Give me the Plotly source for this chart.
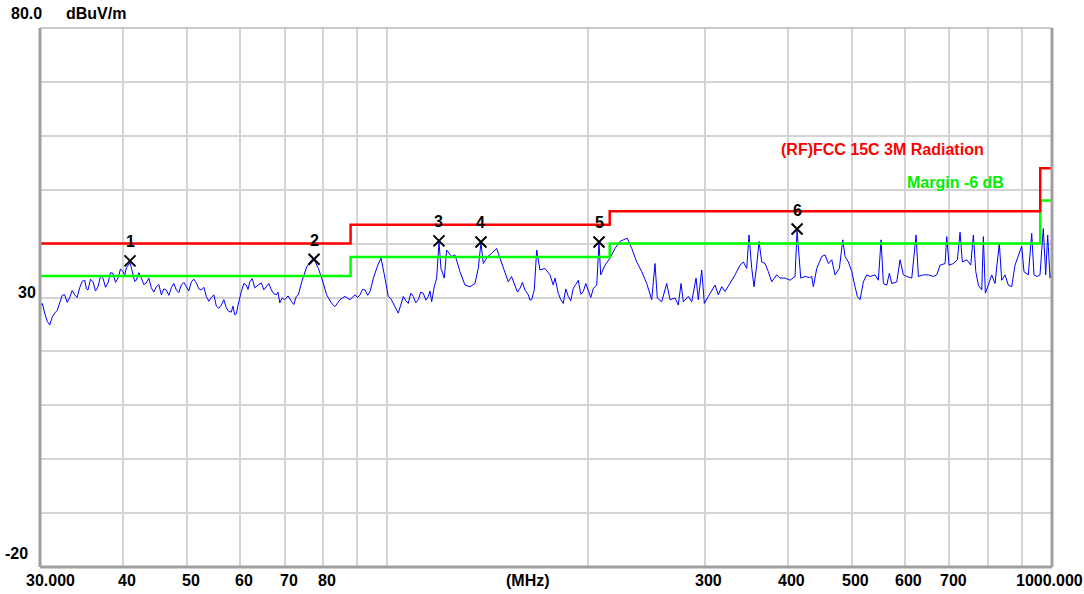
import numpy as np
import plotly.graph_objects as go

# ---------------- data ----------------
freq_mhz = [
    30.00, 30.49, 31.03, 31.57, 32.12, 32.68, 33.25, 33.83, 34.42, 35.03, 35.43, 36.05, 36.68, 37.32,
    37.97, 38.63, 39.31, 40.00, 40.46, 40.98, 41.41, 41.89, 42.62, 43.36, 44.12, 44.89, 45.68, 46.47,
    47.29, 48.11, 48.95, 49.81, 50.68, 51.57, 52.47, 53.38, 54.32, 55.27, 56.23, 57.21, 58.21, 58.90,
    59.58, 60.27, 61.32, 62.05, 63.14, 64.60, 65.72, 66.87, 68.04, 68.85, 70.05, 71.67, 72.92, 73.43,
    74.30, 75.60, 76.92, 77.53, 78.70, 79.63, 81.00, 82.42, 83.37, 84.82, 86.31, 87.82, 89.35, 90.94,
    92.53, 94.15, 95.23, 96.69, 97.80, 98.93, 100.28, 102.03, 103.81, 105.63, 107.47, 109.35, 111.26,
    113.21, 115.19, 116.55, 117.61, 118.59, 119.54, 120.37, 121.75, 122.77, 124.91, 126.35, 128.56,
    130.81, 133.09, 135.42, 136.98, 138.26, 139.37, 141.51, 143.49, 145.99, 147.67, 149.37, 151.98,
    155.55, 158.27, 161.03, 162.89, 164.82, 166.31, 167.70, 169.62, 172.59, 175.61, 177.63, 180.73,
    183.89, 187.10, 190.37, 193.70, 197.09, 200.55, 204.06, 206.48, 208.13, 209.36, 212.50, 216.22,
    220.00, 223.84, 226.42, 229.57, 233.10, 237.18, 241.32, 245.54, 249.83, 252.70, 254.72, 258.63,
    263.16, 266.18, 270.84, 273.95, 276.53, 278.74, 283.61, 286.97, 291.28, 293.61, 297.09, 299.80,
    303.98, 307.58, 311.12, 314.69, 318.42, 322.08, 327.71, 333.44, 339.27, 343.17, 347.24, 350.01,
    353.31, 356.14, 359.48, 362.36, 365.77, 369.97, 374.23, 378.66, 385.28, 389.71, 396.52, 403.48,
    410.53, 413.39, 418.72, 425.01, 431.39, 434.99, 437.41, 442.59, 450.32, 455.50, 460.74, 466.20,
    471.56, 478.64, 484.32, 488.19, 493.80, 499.70, 505.40, 509.45, 514.24, 520.15, 526.31, 532.37,
    541.67, 547.90, 553.05, 557.47, 564.08, 569.18, 573.94, 583.97, 590.68, 597.51, 604.59, 615.16,
    624.39, 629.39, 640.39, 651.58, 662.96, 670.82, 678.54, 690.39, 694.47, 700.00, 710.51, 720.43,
    727.20, 733.01, 744.28, 754.66, 761.50, 767.86, 774.80, 783.99, 788.34, 793.82, 801.94, 811.45,
    820.78, 833.10, 840.06, 849.72, 859.49, 869.68, 879.67, 889.79, 900.34, 907.5, 921.2, 932.1,
    939.5, 950.3, 959.3, 970.3, 978.4, 985.2, 993.1, 1000.0,
]
level_dbuv = [
    28.4, 27.1, 24.9, 27.1, 29.0, 30.5, 30.0, 30.5, 31.8, 33.2, 31.4, 32.9, 32.0, 33.6,
    32.7, 34.5, 33.6, 34.8, 35.5, 36.5, 34.2, 33.2, 33.6, 32.7, 31.8, 32.0, 30.5, 31.4,
    31.8, 31.4, 32.3, 32.0, 32.9, 32.7, 31.4, 30.2, 30.0, 28.4, 28.6, 28.1, 27.3, 26.8,
    28.6, 31.1, 32.3, 32.9, 31.8, 32.7, 32.0, 31.4, 30.5, 29.0, 29.6, 29.3, 30.2, 30.5,
    32.9, 35.7, 37.0, 37.1, 35.4, 33.6, 30.5, 28.9, 28.3, 29.6, 30.2, 29.6, 30.5, 30.5,
    31.4, 31.1, 33.6, 36.0, 37.3, 34.2, 30.2, 28.9, 27.1, 30.2, 28.9, 30.2, 29.6,
    30.8, 30.2, 29.2, 32.0, 33.6, 40.4, 35.4, 33.6, 38.8, 37.6, 37.9, 34.8,
    32.3, 32.0, 32.6, 35.4, 40.2, 36.3, 37.6, 38.2, 39.1, 37.3, 35.4, 32.9,
    32.3, 31.7, 31.4, 30.5, 29.6, 31.4, 38.8, 35.1, 35.4, 34.2, 32.3, 30.8,
    28.9, 30.2, 31.7, 33.2, 31.1, 31.4, 31.7, 32.3, 40.2, 34.2, 36.0, 37.3,
    39.1, 40.4, 40.7, 41.0, 39.1, 36.6, 34.8, 32.6, 29.6, 36.3, 29.9, 29.2,
    32.6, 29.6, 29.9, 28.6, 32.6, 29.2, 30.2, 29.2, 33.6, 29.6, 35.1, 28.9,
    30.2, 31.4, 32.3, 30.5, 32.0, 31.1, 32.6, 34.2, 36.0, 36.6, 35.4, 41.6,
    35.4, 32.0, 36.0, 40.4, 36.6, 36.3, 34.8, 32.9, 34.2, 33.6, 33.6, 33.2,
    33.9, 42.4, 33.6, 33.9, 33.7, 33.9, 32.0, 35.4, 37.6, 37.9, 36.3, 37.0,
    34.2, 35.4, 40.7, 37.6, 36.6, 34.8, 32.0, 30.2, 29.6, 32.9, 34.2, 33.9,
    34.2, 33.2, 40.7, 32.6, 32.3, 34.5, 32.6, 32.9, 37.0, 34.2, 33.9, 33.6,
    41.6, 33.9, 34.2, 34.2, 33.9, 34.2, 36.0, 36.3, 41.3, 36.0, 36.3, 37.0,
    42.1, 36.6, 37.0, 36.0, 41.6, 34.8, 32.3, 31.4, 41.3, 30.8, 32.3, 34.2,
    32.6, 40.1, 33.2, 34.2, 32.3, 32.0, 36.0, 37.9, 39.5, 34.8, 34.2, 41.9,
    34.2, 33.9, 34.2, 42.8, 34.2, 41.6, 33.6, 35.4,
]

# extra sweep points read from the fuzzy (noisy) stretches of the trace
noise_freq_mhz = [
    30.24, 30.76, 31.30, 31.84, 32.40, 32.96, 33.54, 34.12, 34.72, 35.23, 35.74, 36.36, 37.00, 37.64,
    38.30, 38.97, 39.65, 40.23, 40.72, 41.19, 41.65, 42.25, 42.99, 43.74, 44.50, 45.28, 46.07, 46.88,
    47.70, 48.53, 49.38, 50.24, 51.12, 52.02, 52.92, 53.85, 54.79, 55.75, 56.72, 57.71, 58.55, 59.24,
    59.92, 60.79, 61.68, 62.59, 63.87, 65.16, 66.29, 67.45, 68.44, 69.45, 70.86, 72.29,
    90.14, 91.73, 93.34, 94.69, 101.15, 102.92, 104.72, 106.55, 108.41, 110.30, 112.23, 114.20, 115.87,
    153.70, 156.90, 159.60, 163.90, 178.70, 182.30, 185.50, 188.70, 192.00, 195.40, 198.80, 202.30,
]
noise_level_dbuv = [
    28.9, 25.6, 26.4, 27.6, 30.4, 29.1, 31.3, 30.0, 33.0, 31.6, 33.4, 31.2, 34.0, 31.9,
    34.6, 32.8, 35.3, 34.1, 36.0, 35.4, 33.0, 34.6, 32.4, 33.6, 31.0, 32.4, 31.6, 30.4,
    32.6, 30.9, 32.8, 31.2, 33.4, 31.6, 31.9, 29.3, 30.5, 28.0, 29.6, 27.4, 28.4, 27.0,
    30.0, 32.6, 31.5, 33.5, 32.3, 31.4, 32.6, 30.7, 31.0, 29.9, 30.3, 28.7,
    30.0, 31.5, 30.4, 32.6, 29.8, 28.2, 28.6, 29.4, 30.8, 29.0, 31.0, 29.5, 31.2,
    33.9, 31.0, 32.8, 29.5, 33.6, 29.6, 31.6, 29.4, 32.4, 30.6, 32.6, 30.0,
]

# FCC Part 15C 3 m limit (step edges) and the -6 dB margin line
limit_freq = [30, 88, 216, 960, 1000]
limit_level = [40.0, 43.5, 46.0, 54.0, 54.0]
margin_db = 6.0

# peak markers
mk_freq = [40.98, 77.53, 119.54, 138.26, 208.13, 413.39]
mk_level = [36.8, 37.1, 40.5, 40.3, 40.3, 42.7]
mk_label = ["1", "2", "3", "4", "5", "6"]

# axis ticks
x_grid = [40, 50, 60, 70, 80, 90, 100, 200, 300, 400, 500, 600, 700, 800, 900]
x_tick_vals = [30, 40, 50, 60, 70, 80, 300, 400, 500, 600, 700, 1000]
x_tick_text = ["30.000", "40", "50", "60", "70", "80", "300", "400", "500", "600", "700", "1000.000"]
y_grid = [-10, 0, 10, 20, 30, 40, 50, 60, 70]
y_tick_vals = [80, 30, -20]
y_tick_text = ["80.0", "30", "-20"]

# merge the sweep points in frequency order
pairs = sorted(zip(freq_mhz + noise_freq_mhz, level_dbuv + noise_level_dbuv))
trace_f = [p[0] for p in pairs]
trace_v = [p[1] for p in pairs]

# ---------------- figure ----------------
FONT = "Liberation Sans"
fig = go.Figure()

fig.add_trace(go.Scatter(x=trace_f, y=trace_v, mode="lines",
                         line=dict(color="#0000ff", width=1), hoverinfo="skip"))
fig.add_trace(go.Scatter(x=limit_freq, y=[v - margin_db for v in limit_level], mode="lines",
                         line=dict(color="#00ff00", width=2.5, shape="hv"), hoverinfo="skip"))
fig.add_trace(go.Scatter(x=limit_freq, y=limit_level, mode="lines",
                         line=dict(color="#ff0000", width=2.5, shape="hv"), hoverinfo="skip"))
fig.add_trace(go.Scatter(x=mk_freq, y=mk_level, mode="markers",
                         marker=dict(symbol="x-thin", size=11, color="black",
                                     line=dict(color="black", width=2)),
                         hoverinfo="skip"))


def tfont(color="black"):
    return dict(family=FONT, size=16, color=color, weight="bold")


annotations = []
for f, v, t in zip(mk_freq, mk_level, mk_label):
    annotations.append(dict(x=np.log10(f), y=v, xref="x", yref="y", text=t, showarrow=False,
                            yshift=19, font=tfont()))

for i, (f, t) in enumerate(zip(x_tick_vals, x_tick_text)):
    shift = 4
    if i == 0:
        shift = 10
    elif i == len(x_tick_vals) - 1:
        shift = -3
    annotations.append(dict(x=np.log10(f), y=0, xref="x", yref="paper", text=t, showarrow=False,
                            xshift=shift, yshift=-13, yanchor="middle", font=tfont()))
annotations.append(dict(x=(528 - 40) / 1012, y=0, xref="paper", yref="paper", text="(MHz)",
                        showarrow=False, yshift=-13, yanchor="middle", font=tfont()))

y_label_pos = {"80.0": (9, 15), "30": (16, 5), "-20": (3, 14)}
for v, t in zip(y_tick_vals, y_tick_text):
    lx, ys = y_label_pos[t]
    annotations.append(dict(x=0, y=v, xref="paper", yref="y", text=t, showarrow=False,
                            xanchor="left", xshift=lx - 40, yshift=ys, yanchor="middle",
                            font=tfont()))
annotations.append(dict(x=0, y=80, xref="paper", yref="y", text="dBuV/m", showarrow=False,
                        xanchor="left", xshift=64 - 40, yshift=15, yanchor="middle",
                        font=tfont()))

annotations.append(dict(x=(986 - 40) / 1012, y=(567 - 150) / 539, xref="paper", yref="paper",
                        text="(RF)FCC 15C 3M Radiation", showarrow=False, xanchor="right",
                        yanchor="middle", font=tfont("#ff0000")))
annotations.append(dict(x=(1006 - 40) / 1012, y=(567 - 182) / 539, xref="paper", yref="paper",
                        text="Margin -6 dB", showarrow=False, xanchor="right",
                        yanchor="middle", font=tfont("#00ee00")))

frame = "#a0a0a0"
shapes = [
    dict(type="line", xref="paper", yref="paper", x0=0, x1=1, y0=1, y1=1,
         line=dict(color="#b8b8b8", width=1.5), layer="above"),
    dict(type="line", xref="paper", yref="paper", x0=0, x1=0, y0=0, y1=1,
         line=dict(color=frame, width=3), layer="above"),
    dict(type="line", xref="paper", yref="paper", x0=1, x1=1, y0=0, y1=1,
         line=dict(color=frame, width=3), layer="above"),
    dict(type="line", xref="paper", yref="paper", x0=0, x1=1, y0=0, y1=0,
         line=dict(color=frame, width=3), layer="above"),
]

fig.update_layout(
    width=1084, height=594,
    margin=dict(l=40, r=1084 - 1052, t=28, b=594 - 567),
    paper_bgcolor="white", plot_bgcolor="white",
    showlegend=False,
    annotations=annotations,
    shapes=shapes,
    xaxis=dict(type="log", range=[np.log10(30), np.log10(1000)], tickvals=x_grid,
               showticklabels=False, showgrid=True, gridcolor="#d4d4d4", gridwidth=1.5,
               zeroline=False, showline=False, ticks=""),
    yaxis=dict(range=[-20, 80], tickvals=y_grid, showticklabels=False, showgrid=True,
               gridcolor="#d4d4d4", gridwidth=1.5, zeroline=False, showline=False, ticks=""),
)

# the page's default 8px body margin would push the 1084x594 figure off the window
fig.write_html("out.html",
               config={"displayModeBar": False},
               post_script="document.body.style.margin='0';document.body.style.overflow='hidden';")
